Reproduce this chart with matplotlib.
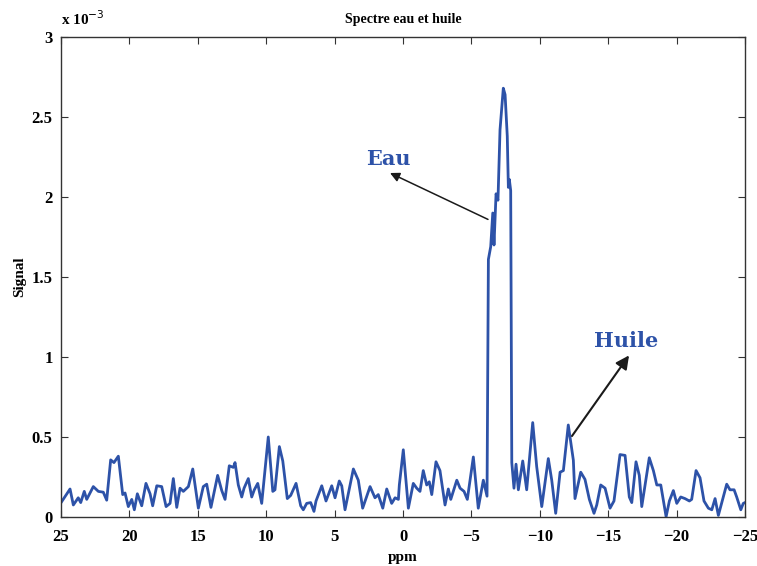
import matplotlib
matplotlib.use("Agg")
import matplotlib.pyplot as plt
from matplotlib.ticker import FuncFormatter

# spectrum (ppm, signal in units of 1e-3)
ppm = [24.95, 24.34, 24.10, 23.74, 23.56, 23.30, 23.12, 22.64, 22.27, 21.91,
       21.66, 21.37, 21.13, 20.81, 20.49, 20.32, 20.08, 19.83, 19.64, 19.42,
       19.10, 18.79, 18.49, 18.30, 18.00, 17.64, 17.32, 17.03, 16.79, 16.54,
       16.30, 16.06, 15.69, 15.37, 14.96, 14.60, 14.35, 14.04, 13.55, 13.25,
       13.01, 12.70, 12.40, 12.28, 12.04, 11.79, 11.62, 11.31, 11.06, 10.87,
       10.62, 10.33, 9.85, 9.52, 9.36, 9.04, 8.79, 8.46, 8.21, 7.82,
       7.48, 7.29, 7.04, 6.75, 6.51, 6.36, 5.94, 5.63, 5.21, 4.97,
       4.66, 4.48, 4.24, 3.63, 3.27, 2.95, 2.41, 2.05, 1.81, 1.48,
       1.19, 0.83, 0.58, 0.34, 0.27, -0.02, -0.39, -0.75, -1.00, -1.24,
       -1.48, -1.73, -1.92, -2.10, -2.41, -2.70, -3.07, -3.31, -3.49, -3.93,
       -4.17, -4.46, -4.70, -5.14, -5.50, -5.87, -6.14, -6.24, -6.41, -6.56,
       -6.65, -6.80, -6.94, -7.09, -7.33, -7.46, -7.62, -7.70, -7.77, -7.87,
       -7.95, -8.11, -8.26, -8.43, -8.75, -9.04, -9.48, -9.77, -10.14, -10.62,
       -10.87, -11.16, -11.48, -11.72, -12.08, -12.45, -12.57, -12.99, -13.30, -13.62,
       -13.96, -14.16, -14.45, -14.77, -15.13, -15.42, -15.86, -16.23, -16.54, -16.72,
       -17.03, -17.27, -17.45, -18.00, -18.30, -18.55, -18.84, -19.23, -19.47, -19.76,
       -20.01, -20.30, -20.61, -20.93, -21.10, -21.42, -21.71, -22.00, -22.32, -22.57,
       -22.81, -23.05, -23.41, -23.66, -23.90, -24.20, -24.39, -24.69, -24.87, -25.00]
signal = [0.096, 0.175, 0.075, 0.12, 0.09, 0.16, 0.11, 0.19, 0.16, 0.155,
          0.105, 0.357, 0.34, 0.38, 0.14, 0.15, 0.065, 0.11, 0.045, 0.145,
          0.07, 0.21, 0.145, 0.07, 0.195, 0.19, 0.065, 0.085, 0.24, 0.06,
          0.18, 0.16, 0.19, 0.30, 0.055, 0.19, 0.205, 0.06, 0.26, 0.165,
          0.11, 0.32, 0.31, 0.34, 0.20, 0.125, 0.18, 0.24, 0.125, 0.17,
          0.21, 0.085, 0.50, 0.16, 0.17, 0.44, 0.35, 0.115, 0.135, 0.21,
          0.07, 0.045, 0.085, 0.09, 0.035, 0.10, 0.195, 0.10, 0.195, 0.12,
          0.225, 0.195, 0.045, 0.30, 0.23, 0.055, 0.19, 0.12, 0.14, 0.055,
          0.175, 0.085, 0.12, 0.11, 0.20, 0.42, 0.055, 0.21, 0.18, 0.16,
          0.29, 0.20, 0.22, 0.14, 0.345, 0.29, 0.075, 0.175, 0.11, 0.23,
          0.18, 0.16, 0.11, 0.375, 0.055, 0.23, 0.13, 1.61, 1.69, 1.90,
          1.70, 2.02, 1.98, 2.42, 2.68, 2.64, 2.38, 2.06, 2.11, 2.04,
          0.34, 0.18, 0.33, 0.17, 0.35, 0.17, 0.59, 0.315, 0.065, 0.365,
          0.23, 0.023, 0.28, 0.29, 0.575, 0.355, 0.115, 0.28, 0.235, 0.11,
          0.023, 0.075, 0.20, 0.18, 0.055, 0.10, 0.39, 0.385, 0.125, 0.09,
          0.345, 0.26, 0.065, 0.37, 0.29, 0.20, 0.20, 0.002, 0.10, 0.165,
          0.085, 0.125, 0.115, 0.10, 0.11, 0.29, 0.245, 0.10, 0.055, 0.045,
          0.115, 0.01, 0.125, 0.205, 0.17, 0.17, 0.125, 0.045, 0.085, 0.09]

xticks = [25, 20, 15, 10, 5, 0, -5, -10, -15, -20, -25]
yticks = [0, 0.5, 1, 1.5, 2, 2.5, 3]

blue = '#2d52a8'
serif_bold = {'family': 'Liberation Serif', 'weight': 'bold'}

fig = plt.figure(figsize=(7.57, 5.66), dpi=100)
ax = fig.add_axes([0.0806, 0.0866, 0.9036, 0.848])
ax.plot(ppm, signal, color=blue, lw=2.0, solid_joinstyle='round')

ax.set_xlim(25, -25)
ax.set_ylim(0, 3)
ax.set_xticks(xticks)
ax.set_yticks(yticks)
ax.xaxis.set_major_formatter(FuncFormatter(lambda v, p: '%g' % v if v >= 0 else '\u2212%g' % -v))
ax.yaxis.set_major_formatter(FuncFormatter(lambda v, p: '%g' % v))
ax.tick_params(direction='in', length=5, width=0.8, top=True, right=True,
               color='#333333')
ax.tick_params(axis='x', pad=9)
ax.tick_params(axis='y', pad=6)
for lab in ax.get_xticklabels() + ax.get_yticklabels():
    lab.set_fontproperties(serif_bold)
    lab.set_fontsize(12)
for s in ax.spines.values():
    s.set_color('#333333')
    s.set_linewidth(1.0)

ax.set_title('Spectre eau et huile', fontdict=serif_bold, fontsize=10, pad=10)
ax.set_xlabel('ppm', fontdict=serif_bold, fontsize=11, labelpad=4)
ax.set_ylabel('Signal', fontdict=serif_bold, fontsize=11, labelpad=4)
ax.text(0.0, 1.018, 'x 10$^{-3}$', transform=ax.transAxes, ha='left', va='bottom',
        fontdict=serif_bold, fontsize=11)

ax.annotate('', xy=(0.95, 2.15), xytext=(-6.21, 1.86),
            arrowprops=dict(arrowstyle='-|>', color='#1a1a1a', lw=1.1,
                            mutation_scale=14, shrinkA=0, shrinkB=0))
ax.text(1.1, 2.24, 'Eau', color=blue, ha='center', va='center',
        family='DejaVu Serif', weight='bold', fontsize=15)
ax.annotate('', xy=(-16.52, 1.01), xytext=(-12.35, 0.506),
            arrowprops=dict(arrowstyle='-|>', color='#1a1a1a', lw=1.5,
                            mutation_scale=20, shrinkA=0, shrinkB=0))
ax.text(-16.3, 1.10, 'Huile', color=blue, ha='center', va='center',
        family='DejaVu Serif', weight='bold', fontsize=15)

fig.savefig('out.png', dpi=100)
